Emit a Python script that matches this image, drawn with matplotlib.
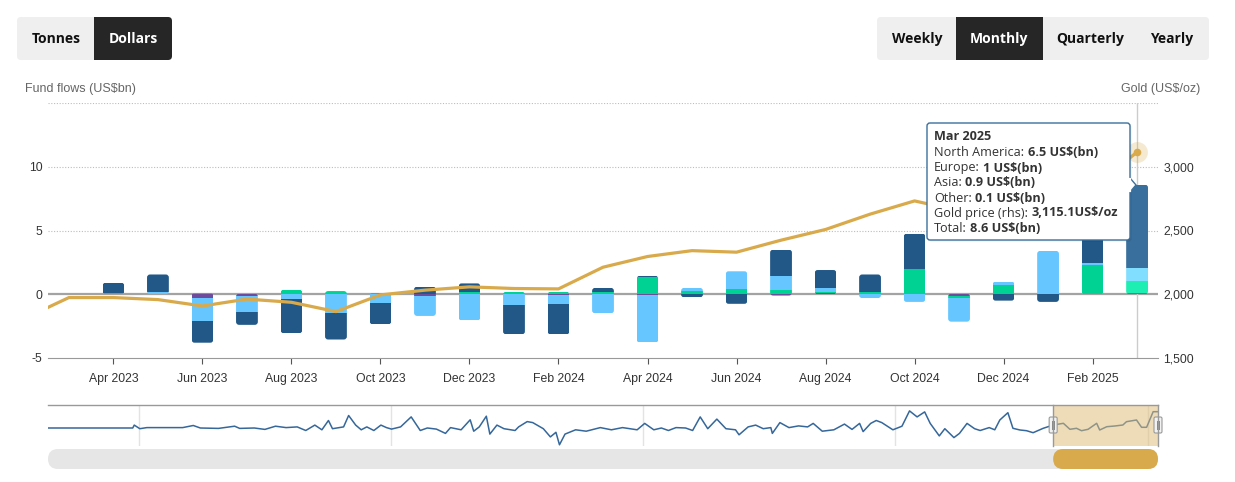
import numpy as np
import matplotlib.pyplot as plt
from matplotlib.patches import FancyBboxPatch, Rectangle, Polygon

plt.rcParams['font.family'] = ['Liberation Sans', 'DejaVu Sans']
plt.rcParams['axes.unicode_minus'] = False

# monthly fund flows by region (US$bn)
months = ['Mar 2023', 'Apr 2023', 'May 2023', 'Jun 2023', 'Jul 2023', 'Aug 2023',
          'Sep 2023', 'Oct 2023', 'Nov 2023', 'Dec 2023', 'Jan 2024', 'Feb 2024',
          'Mar 2024', 'Apr 2024', 'May 2024', 'Jun 2024', 'Jul 2024', 'Aug 2024',
          'Sep 2024', 'Oct 2024', 'Nov 2024', 'Dec 2024', 'Jan 2025', 'Feb 2025',
          'Mar 2025']
north_america = [0, 0.8, 1.35, -1.7, -1.0, -2.7, -2.1, -1.65, 0.6, 0.65, -2.3, -2.35,
                 0.35, 0.08, -0.25, -0.75, 2.05, 1.4, 1.35, 2.75, 0.05, -0.5, -0.6, 6.8, 6.54]
europe = [0, 0, 0.2, -1.8, -1.3, -0.35, -1.45, -0.7, -1.6, -2.05, -0.85, -0.75,
          -1.5, -3.7, 0.25, 1.4, 1.1, 0.3, -0.3, -0.6, -1.85, 0.3, 3.4, 0.15, 1.03]
asia = [0, 0.1, 0, 0.1, 0.05, 0.35, 0.25, 0.1, 0, 0.2, 0.2, 0.2,
        0.15, 1.36, 0.25, 0.4, 0.35, 0.1, 0.2, 2.0, -0.15, 0.7, 0, 2.25, 0.93]
other = [0, 0, 0, -0.3, -0.1, 0, 0, 0, -0.1, 0, 0, -0.05,
         0, -0.08, 0, 0, -0.1, 0.1, 0, 0, -0.15, 0, 0, 0.05, 0.1]

# gold price (US$/oz), starts one month earlier (Feb 2023)
gold_price = [1810, 1974, 1974, 1958, 1908, 1962, 1937, 1864, 1995, 2032, 2058,
              2045, 2042, 2212, 2296, 2342, 2330, 2424, 2508, 2628, 2732, 2655, 2610,
              2790, 2836, 3115.1]

# navigator series (whole history)
nav_year = [2003.19, 2004.88, 2004.91, 2005.02, 2005.16, 2005.87, 2006.08, 2006.22, 2006.58, 2006.90,
            2007.00, 2007.29, 2007.50, 2007.71, 2007.92, 2008.14, 2008.31, 2008.49, 2008.63, 2008.76,
            2008.84, 2009.06, 2009.16, 2009.30, 2009.41, 2009.52, 2009.66, 2009.80, 2009.91, 2010.01,
            2010.19, 2010.40, 2010.58, 2010.72, 2010.90, 2011.08, 2011.18, 2011.39, 2011.57, 2011.64,
            2011.75, 2011.89, 2011.96, 2012.10, 2012.24, 2012.46, 2012.53, 2012.70, 2012.81, 2013.02,
            2013.16, 2013.27, 2013.34, 2013.45, 2013.66, 2013.87,
            2014.15, 2014.37, 2014.59, 2014.88, 2015.03, 2015.21, 2015.36, 2015.50, 2015.65, 2015.84,
            2015.98, 2016.13, 2016.28, 2016.46, 2016.64, 2016.83, 2016.90, 2017.08, 2017.23, 2017.38,
            2017.53, 2017.56, 2017.71, 2017.89, 2018.08, 2018.26, 2018.37, 2018.55, 2018.78, 2018.99,
            2019.14, 2019.29, 2019.36, 2019.51, 2019.62, 2019.73, 2019.95, 2020.13, 2020.28, 2020.43,
            2020.58, 2020.69, 2020.87, 2020.98, 2021.16, 2021.27, 2021.42, 2021.57, 2021.68, 2021.86,
            2021.97, 2022.07, 2022.23, 2022.33, 2022.47, 2022.60, 2022.73, 2022.93, 2023.13, 2023.33,
            2023.46, 2023.59, 2023.69, 2023.82, 2023.99, 2024.05, 2024.19, 2024.35, 2024.51, 2024.58,
            2024.78, 2024.88, 2024.98, 2025.11, 2025.21]
nav_flow = [0, 0, 2.9, -0.7, 0.4, 0.4, 2.5, 0, -0.4, 1.8,
            -0.4, 0, -1.4, 1.8, 0.4, 1.1, -2.5, 2.9, -1.8, 7.5,
            -0.7, 1.1, 12.5, 2.9, -1.8, 1.1, -2.5, 2.9, 0.4, -1.1,
            1.1, 11.1, -2.5, 0, -1.1, -5.4, 0.4, -1.8, 8.2, -3.2,
            1.1, 11.8, -6.1, 2.9, -0.7, -2.5, 1.1, 6.4, 5.4, -0.7,
            -8.9, -4.3, -16.8, -6.1, -1.8, -3.2,
            0.4, -1.8, 0.4, -1.8, 4.6, -1.8, 0, -2.5, 0.4, 0,
            -2.5, 11.1, -0.7, 8.9, -0.7, -1.8, -6.8, 1.1, 2.9, -0.7,
            0.4, -5.4, 5.4, 0.4, 2.1, 1.1, 4.6, -3.2, -1.8, 3.9,
            -1.4, 4.6, -3.6, 4.6, 7.5, 5.4, -1.8, 1.8, 17.1, 11.1,
            16.1, 4.6, -7.9, -0.7, -9.6, -5.4, 4.6, -0.7, -2.5, 0.4,
            -1.8, 8, 15.3, -0.3, -2, -2.7, -4.7, -0.3, 3, 4.7,
            -1.3, -0.3, -2.7, -1.3, 4.7, -2, 1.3, 2, 3, 6.3,
            8, 0.7, 0.7, 16.3, 16.3]
nav_grid_years = [2005, 2010, 2015, 2020, 2025]

W, H = 1235, 482
fig = plt.figure(figsize=(W / 100, H / 100), dpi=100)
fig.patch.set_facecolor('white')


def frac(x0, y0, x1, y1):
    return [x0 / W, 1 - y1 / H, (x1 - x0) / W, (y1 - y0) / H]


ax = fig.add_axes(frac(48, 103, 1158, 358))
ax2 = ax.twinx()

ax.set_xlim(-0.47, len(months) - 0.53)
ax.set_ylim(-5, 15)
ax2.set_ylim(1500, 3500)

x = np.arange(len(months))
hi = len(months) - 1
bar_w = 0.49

# rounded ends of each stacked column (clip path)
tot_pos = np.zeros(len(x))
tot_neg = np.zeros(len(x))
for vals in (other, asia, europe, north_america):
    v = np.array(vals, dtype=float)
    tot_pos += np.where(v > 0, v, 0)
    tot_neg += np.where(v < 0, v, 0)
p0 = ax.transData.transform((0, 0))
p1 = ax.transData.transform((1, 1))
xpx, ypx = p1[0] - p0[0], p1[1] - p0[1]
clips = []
for i in x:
    cp = FancyBboxPatch((i - bar_w / 2, tot_neg[i]), bar_w, tot_pos[i] - tot_neg[i],
                        boxstyle=f'round,pad=0,rounding_size={3 / xpx}',
                        mutation_aspect=xpx / ypx, transform=ax.transData)
    clips.append(cp)

# stacked outward from zero: Other, Asia, Europe, North America
series = [('Other', other, '#6f4c9b', '#8462b0'),
          ('Asia', asia, '#00d294', '#1eeeb2'),
          ('Europe', europe, '#66c6ff', '#82defe'),
          ('North America', north_america, '#215887', '#386f9c')]
pos = np.zeros(len(x))
neg = np.zeros(len(x))
for name, vals, col, hcol in series:
    v = np.array(vals, dtype=float)
    bottom = np.where(v >= 0, pos, neg)
    colors = [col] * len(x)
    colors[hi] = hcol
    bars = ax.bar(x, v, bar_w, bottom=bottom, color=colors, linewidth=0, zorder=3)
    for rect, cp in zip(bars, clips):
        rect.set_clip_path(cp)
    pos += np.where(v > 0, v, 0)
    neg += np.where(v < 0, v, 0)

for gv in (5, 10, 15):
    ax.axhline(gv, color='#bdbdbd', lw=0.8, ls=(0, (1, 1.5)), zorder=1)
ax.axhline(0, color='#a3a3a3', lw=1.6, zorder=2)
ax.axvline(x[hi], color='#cccccc', lw=1, zorder=2.5)

gold_x = np.arange(-1, len(months))
ax2.plot(gold_x, gold_price, color='#d9aa4b', lw=2.3, solid_joinstyle='round', zorder=4)
ax2.plot(gold_x[-1], gold_price[-1], 'o', ms=15, color='#d9aa4b', alpha=0.25, mec='none')
ax2.plot(gold_x[-1], gold_price[-1], 'o', ms=5.5, color='#d9aa4b', mec='none')

ax.set_yticks([-5, 0, 5, 10])
ax.tick_params(axis='y', length=0, pad=4, labelsize=8.8, labelcolor='#333333')
ax.set_xticks(x[1::2])
ax.set_xticklabels([months[i] for i in x[1::2]])
ax.tick_params(axis='x', length=4.5, width=0.8, color='#555555', pad=6,
               labelsize=8.8, labelcolor='#333333')
ax2.set_yticks([1500, 2000, 2500, 3000])
ax2.set_yticklabels([f'{v:,}' for v in [1500, 2000, 2500, 3000]])
ax2.tick_params(axis='y', length=0, pad=4, labelsize=8.8, labelcolor='#333333')
for s in ('left', 'right', 'top'):
    ax.spines[s].set_visible(False)
ax.spines['bottom'].set_color('#999999')
for s in ax2.spines.values():
    s.set_visible(False)

# navigator
nav = fig.add_axes(frac(48, 405, 1158, 446))
nav.set_xlim(2003.2, 2025.206)
nav.set_ylim(-18, 23)
nav.axis('off')
for yr in nav_grid_years:
    nav.axvline(yr, color='#e3e3e3', lw=1, zorder=0)
nav.plot(nav_year, nav_flow, color='#35679a', lw=1.1, zorder=2)


def month_year(i):
    return 2023 + (i + 2) / 12


sel_lo = month_year(ax.get_xlim()[0])
sel_hi = month_year(ax.get_xlim()[1])
nav.axvspan(sel_lo, sel_hi, color='#e0bd78', alpha=0.52, lw=0, zorder=3)


def nav_px(yr):
    return nav.transData.transform((yr, 0))[0]


# overlay in pixel coords for UI elements
ov = fig.add_axes([0, 0, 1, 1], zorder=10)
ov.set_xlim(0, W)
ov.set_ylim(H, 0)
ov.axis('off')
ov.patch.set_alpha(0)

ui = ['Open Sans', 'DejaVu Sans']
px_lo, px_hi = nav_px(sel_lo), nav_px(sel_hi)
ov.plot([48, 1158], [405, 405], color='#999999', lw=1)
ov.plot([px_lo, px_lo], [405, 446], color='#999999', lw=1)
ov.plot([px_hi, px_hi], [405, 446], color='#999999', lw=1)
for hx in (px_lo, px_hi):
    ov.add_patch(FancyBboxPatch((hx - 4, 417), 8, 16, boxstyle='round,pad=0,rounding_size=1.5',
                                fc='#f2f2f2', ec='#999999', lw=0.8))
    ov.plot([hx - 1.3, hx - 1.3], [421, 429], color='#888888', lw=0.7)
    ov.plot([hx + 1.3, hx + 1.3], [421, 429], color='#888888', lw=0.7)

# scrollbar
ov.add_patch(FancyBboxPatch((48, 449), 1110, 20, boxstyle='round,pad=0,rounding_size=10',
                            fc='#e6e6e6', ec='none'))
ov.add_patch(FancyBboxPatch((px_lo, 449), px_hi - px_lo, 20,
                            boxstyle='round,pad=0,rounding_size=10', fc='#d8aa4c', ec='none'))

# buttons
ov.add_patch(FancyBboxPatch((17, 17), 155, 43, boxstyle='round,pad=0,rounding_size=4',
                            fc='#efefef', ec='none'))
ov.add_patch(FancyBboxPatch((94, 17), 78, 43, boxstyle='round,pad=0,rounding_size=4',
                            fc='#262626', ec='none'))
ov.add_patch(Rectangle((94, 17), 6, 43, fc='#262626', ec='none'))
ov.text(56, 39, 'Tonnes', family=ui, fontweight='bold', fontsize=10, color='#111111',
        ha='center', va='center')
ov.text(133, 39, 'Dollars', family=ui, fontweight='bold', fontsize=10, color='white',
        ha='center', va='center')
ov.add_patch(FancyBboxPatch((877, 17), 332, 43, boxstyle='round,pad=0,rounding_size=4',
                            fc='#efefef', ec='none'))
ov.add_patch(Rectangle((956, 17), 87, 43, fc='#262626', ec='none'))
for label, cx in [('Weekly', 917), ('Monthly', 999), ('Quarterly', 1090), ('Yearly', 1172)]:
    ov.text(cx, 39, label, family=ui, fontweight='bold', fontsize=10,
            color='white' if label == 'Monthly' else '#111111', ha='center', va='center')

# axis titles
ov.text(25, 89, 'Fund flows (US$bn)', fontsize=9, color='#666666', ha='left', va='center')
ov.text(1200, 89, 'Gold (US$/oz)', fontsize=9, color='#666666', ha='right', va='center')

# tooltip
tip_col = '#3a6f9c'
ov.add_patch(FancyBboxPatch((928.5, 124.5), 203, 117, boxstyle='round,pad=0,rounding_size=3',
                            fc='#000000', alpha=0.08, ec='none'))
ov.add_patch(FancyBboxPatch((927, 123), 203, 117, boxstyle='round,pad=0,rounding_size=3',
                            fc='white', ec=tip_col, lw=1))
ov.add_patch(Polygon([(1130, 178), (1136, 185), (1130, 192)], closed=True,
                     fc='white', ec=tip_col, lw=1))
ov.plot([1130, 1130], [179, 191], color='white', lw=1.6)


def fmt(v):
    return f'{round(v, 1):g}'


total = north_america[hi] + europe[hi] + asia[hi] + other[hi]
rows = [('North America', f'{fmt(north_america[hi])} US$(bn)'),
        ('Europe', f'{fmt(europe[hi])} US$(bn)'),
        ('Asia', f'{fmt(asia[hi])} US$(bn)'),
        ('Other', f'{fmt(other[hi])} US$(bn)'),
        ('Gold price (rhs)', f'{gold_price[-1]:,.1f}US$/oz'),
        ('Total', f'{fmt(total)} US$(bn)')]
ov.text(934, 137, months[hi], family=ui, fontweight='bold', fontsize=9.1, color='#333333',
        va='center')
renderer = fig.canvas.get_renderer()
for i, (lab, val) in enumerate(rows):
    ty = 153 + i * 15
    t = ov.text(934, ty, lab + ':', family=ui, fontsize=9.1, color='#333333', va='center')
    bb = t.get_window_extent(renderer)
    xe = ov.transData.inverted().transform((bb.x1, bb.y0))[0]
    ov.text(xe + 3.5, ty, val, family=ui, fontweight='bold', fontsize=9.1, color='#333333',
            va='center')

fig.savefig('out.png', dpi=100, facecolor='white')
